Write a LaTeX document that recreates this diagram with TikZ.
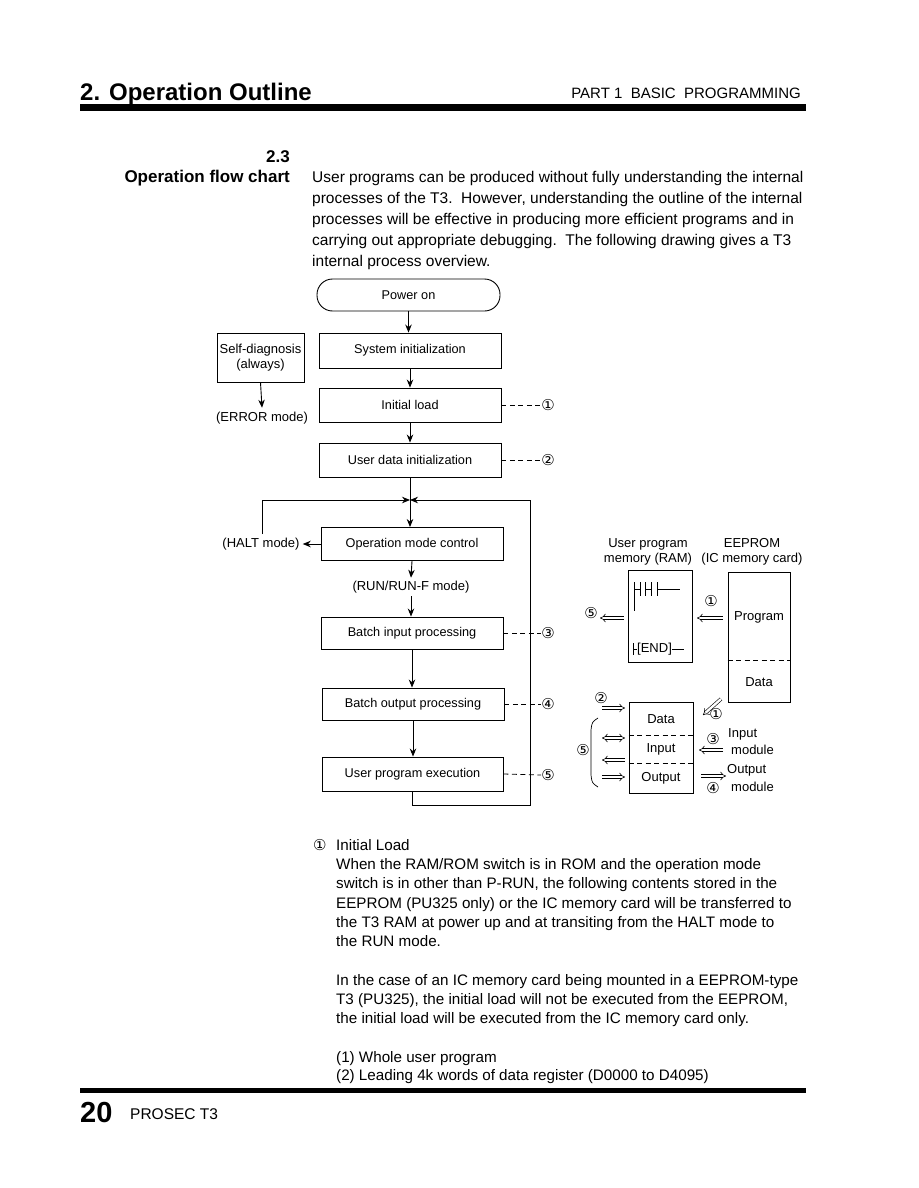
\documentclass[tikz,border=0pt]{standalone}
\usepackage{fontspec}
\setmainfont{Liberation Sans}
\newfontfamily\circfont{DejaVu Sans}
\usetikzlibrary{arrows.meta,shapes.misc}
\newcommand\fsz[1]{\fontsize{#1}{#1}\selectfont}
\begin{document}
\begin{tikzpicture}[x=1pt,y=-1pt,
  box/.style={draw, line width=0.9pt, minimum width=182pt, minimum height=34pt, inner sep=0pt, font=\fsz{12.7}},
  mbox/.style={draw, line width=0.9pt, inner sep=0pt},
  lbl/.style={inner sep=0pt, font=\fsz{12.7}},
  slbl/.style={inner sep=0pt, font=\fsz{13}},
  circ/.style={inner sep=0pt, font=\circfont\fsz{15}},
  txt/.style={inner sep=0pt, anchor=base west, font=\fsz{15.2}},
  flow/.style={line width=0.9pt, -{Stealth[length=8pt,width=6.5pt]}},
  plain/.style={line width=0.9pt},
  dashln/.style={line width=0.8pt, dash pattern=on 5pt off 3.5pt},
  dbl/.style={double, double distance=2.4pt, line width=0.6pt, -{Implies}},
  dblb/.style={double, double distance=2.4pt, line width=0.6pt, {Implies}-{Implies}}
]
\useasboundingbox (0,0) rectangle (918,1188);
\fill[white] (0,0) rectangle (918,1188);

% header
\node[inner sep=0pt, anchor=base west, font=\bfseries\fsz{24}] (title) at (80,101) {2. Operation Outline};
\node[inner sep=0pt, anchor=base east, font=\fsz{15}] (part) at (801,99) {PART 1\ \ BASIC\ \ PROGRAMMING};
\fill (80,104.5) rectangle (806,111);

% section heading
\node[inner sep=0pt, anchor=base east, font=\bfseries\fsz{17}] (secnum) at (290,162) {2.3};
\node[inner sep=0pt, anchor=base east, font=\bfseries\fsz{17}] (sectitle) at (290,182) {Operation flow chart};

% intro paragraph
\node[txt, font=\fsz{15.5}] (p1) at (312,182) {User programs can be produced without fully understanding the internal};
\node[txt, font=\fsz{15.5}] (p2) at (312,203) {processes of the T3.\ \ However, understanding the outline of the internal};
\node[txt, font=\fsz{15.5}] (p3) at (312,224) {processes will be effective in producing more efficient programs and in};
\node[txt, font=\fsz{15.5}] (p4) at (312,245) {carrying out appropriate debugging.\ \ The following drawing gives a T3};
\node[txt, font=\fsz{15.5}] (p5) at (312,266) {internal process overview.};

% flow chart
\node[draw, line width=0.9pt, rectangle, rounded corners=15.5pt, minimum width=183pt, minimum height=32pt, inner sep=0pt, font=\fsz{12.7}] (pwr) at (408.5,295) {Power on};
\node[box, minimum height=35pt] (sys) at (410,350.5) {System initialization};
\node[box] (init) at (410,405) {Initial load};
\node[box] (udi) at (410,460) {User data initialization};
\node[box, minimum height=33pt] (omc) at (412,544) {Operation mode control};
\node[box, minimum height=32pt] (bip) at (412,633) {Batch input processing};
\node[box, minimum height=32pt] (bop) at (413,704) {Batch output processing};
\node[box, minimum width=181pt] (upe) at (412.5,774) {User program execution};

\node[draw, line width=0.9pt, minimum width=87pt, minimum height=49pt, inner sep=0pt, align=center, font=\fsz{13}] (self) at (260.5,357.5) {Self-diagnosis\\[2pt](always)};
\node[lbl, font=\fsz{13}] (err) at (262,418) {(ERROR mode)};
\node[lbl, font=\fsz{13}] (halt) at (261,544) {(HALT mode)};
\node[lbl, font=\fsz{13}] (run) at (411,587) {(RUN/RUN-F mode)};

\node[circ] (c1) at (548,405) {①};
\node[circ] (c2) at (548,460) {②};
\node[circ] (c3) at (548,633) {③};
\node[circ] (c4) at (548,704) {④};
\node[circ] (c5) at (548,775) {⑤};

\draw[flow] (pwr.south) -- (pwr.south |- sys.north);
\draw[flow] (sys.south) -- (sys.south |- init.north);
\draw[flow] (init.south) -- (init.south |- udi.north);
\coordinate (J) at (410,500);
\draw[plain] (udi.south) -- (J);
\draw[flow] (J) -- (J |- omc.north);
\coordinate (LB) at (262,534);
\coordinate (LT) at (262,500);
\draw[flow] (LB) -- (LT) -- (J);
\coordinate (RT) at (530,500);
\coordinate (RB) at (530,805);
\draw[flow] (upe.south) |- (RB) -- (RT) -- (J);
\draw[flow] (omc.west) -- ([xshift=3pt]halt.east);
\draw[flow] (omc.south) -- ([yshift=3pt]run.north);
\draw[flow] ([yshift=-3pt]run.south) -- (run.south |- bip.north);
\draw[flow] (bip.south) -- (bip.south |- bop.north);
\draw[flow] (bop.south) -- (bop.south |- upe.north);
\draw[flow] (self.south) -- ([yshift=4pt]err.north);

\draw[dashln] (init.east) -- (c1.west);
\draw[dashln] (udi.east) -- (c2.west);
\draw[dashln] (bip.east) -- (c3.west);
\draw[dashln] (bop.east) -- (c4.west);
\draw[dashln] (upe.east) -- (c5.west);

% memory diagram
\node[slbl, align=center] (ramlbl) at (648,552) {User program\\[2pt]memory (RAM)};
\node[slbl, align=center] (eeplbl) at (752,552) {EEPROM\\[2pt](IC memory card)};

\node[mbox, minimum width=64pt, minimum height=92pt] (ram) at (660,616.5) {};
\node[mbox, minimum width=62pt, minimum height=130pt] (eep) at (759,637) {};
\draw[dashln] (eep.west |- 0,660) -- (eep.east |- 0,660);
\node[slbl] (prog) at (759,617) {Program};
\node[slbl] (edata) at (759,682) {Data};

\node[mbox, minimum width=64pt, minimum height=91pt] (dio) at (661,747.5) {};
\draw[dashln] (dio.west |- 0,735) -- (dio.east |- 0,735);
\draw[dashln] (dio.west |- 0,763) -- (dio.east |- 0,763);
\node[slbl] (ddata) at (661,719) {Data};
\node[slbl] (dinput) at (661,749) {Input};
\node[slbl] (doutput) at (661,778) {Output};

% ladder symbols
\draw[line width=0.8pt] (634,582) -- (634,611);
\draw[line width=0.8pt] (634,589) -- (640,589);
\draw[line width=0.8pt] (640,582) -- (640,596);
\draw[line width=0.8pt] (645,582) -- (645,596);
\draw[line width=0.8pt] (645,589) -- (651,589);
\draw[line width=0.8pt] (651,582) -- (651,596);
\draw[line width=0.8pt] (657,582) -- (657,596);
\draw[line width=0.8pt] (657,589) -- (680,589);
\node[slbl, anchor=west] (endtxt) at (637,649) {[END]};
\draw[line width=0.8pt] (633,643) -- (633,655);
\draw[line width=0.8pt] (633,649) -- (endtxt.west);
\draw[line width=0.8pt] (endtxt.east) -- (684,649);

% double arrows
\coordinate (a5s) at (624,618); \coordinate (a5e) at (600,618);
\draw[dbl] (a5s) -- (a5e);
\node[circ] (m5) at (591,613) {⑤};
\coordinate (a1s) at (723,618); \coordinate (a1e) at (697,618);
\draw[dbl] (a1s) -- (a1e);
\node[circ] (m1) at (711,601) {①};

\coordinate (b2s) at (602,708); \coordinate (b2e) at (625,708);
\draw[dbl] (b2s) -- (b2e);
\node[circ] (m2) at (601,698) {②};
\coordinate (bds) at (602,738); \coordinate (bde) at (625,738);
\draw[dblb] (bds) -- (bde);
\coordinate (bis) at (625,760); \coordinate (bie) at (602,760);
\draw[dbl] (bis) -- (bie);
\coordinate (bos) at (602,777); \coordinate (boe) at (625,777);
\draw[dbl] (bos) -- (boe);
\node[circ] (m5b) at (583,750) {⑤};
\draw[line width=0.7pt] (598,718) .. controls (592,722) .. (591,730) -- (591,775) .. controls (592,783) .. (598,787);

\coordinate (dgs) at (721,699); \coordinate (dge) at (703,715);
\draw[dbl] (dgs) -- (dge);
\node[circ] (m1b) at (716,714) {①};

\coordinate (ins) at (723,750); \coordinate (ine) at (699,750);
\draw[dbl] (ins) -- (ine);
\node[circ] (m3) at (713,739) {③};
\node[slbl, anchor=west] (inlbl) at (728,734) {Input};
\node[slbl, anchor=west] (inmod) at (731,750) {module};

\coordinate (ous) at (701,776); \coordinate (oue) at (726,776);
\draw[dbl] (ous) -- (oue);
\node[circ] (m4) at (713,788) {④};
\node[slbl, anchor=west] (outlbl) at (727,770) {Output};
\node[slbl, anchor=west] (outmod) at (731,787) {module};

% explanation
\node[txt, font=\circfont\fsz{15}] (n0c) at (313,850) {①};
\node[txt] (n0) at (336,850) {Initial Load};
\node[txt] (n1) at (336,869) {When the RAM/ROM switch is in ROM and the operation mode};
\node[txt] (n2) at (336,888) {switch is in other than P-RUN, the following contents stored in the};
\node[txt] (n3) at (336,908) {EEPROM (PU325 only) or the IC memory card will be transferred to};
\node[txt] (n4) at (336,927) {the T3 RAM at power up and at transiting from the HALT mode to};
\node[txt] (n5) at (336,946) {the RUN mode.};
\node[txt] (n6) at (336,985) {In the case of an IC memory card being mounted in a EEPROM-type};
\node[txt] (n7) at (336,1004) {T3 (PU325), the initial load will not be executed from the EEPROM,};
\node[txt] (n8) at (336,1023) {the initial load will be executed from the IC memory card only.};
\node[txt] (n9) at (336,1062) {(1) Whole user program};
\node[txt] (n10) at (336,1080) {(2) Leading 4k words of data register (D0000 to D4095)};

% footer
\fill (80,1088) rectangle (806,1093);
\node[inner sep=0pt, anchor=base west, font=\bfseries\fsz{29}] (pgno) at (80,1122) {20};
\node[inner sep=0pt, anchor=base west, font=\fsz{15.5}] (prosec) at (130,1119) {PROSEC T3};
\end{tikzpicture}
\end{document}
